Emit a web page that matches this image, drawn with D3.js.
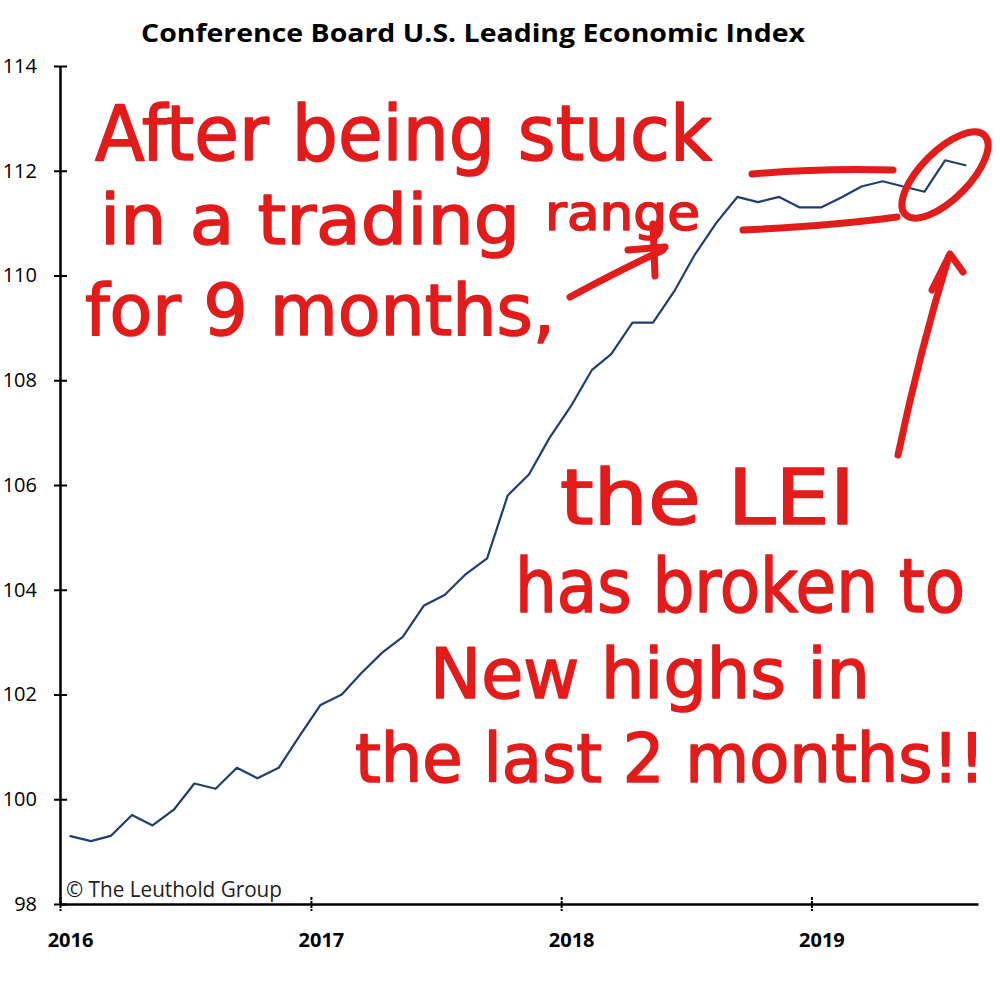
<!DOCTYPE html>
<html>
<head>
<meta charset="utf-8">
<script src="https://cdn.jsdelivr.net/npm/d3@7"></script>
<style>
  body { margin: 0; background: #fff; }
  svg { display: block; }
</style>
</head>
<body>
<div id="chart"></div>
<script>
// LEI monthly values, Jan 2016 .. Aug 2019
const lei2016 = [99.3, 99.2, 99.3, 99.7, 99.5, 99.8, 100.3, 100.2, 100.6, 100.4, 100.6, 101.2];
const lei2017 = [101.8, 102.0, 102.4, 102.8, 103.1, 103.7, 103.9, 104.3, 104.6, 105.8, 106.2, 106.9];
const lei2018 = [107.5, 108.2, 108.5, 109.1, 109.1, 109.7, 110.4, 111.0, 111.5, 111.4, 111.5, 111.3];
const lei2019 = [111.3, 111.5, 111.7, 111.8, 111.7, 111.6, 112.2, 112.1];

const yearTicks = [2016, 2017, 2018, 2019];
const yTicks = [98, 100, 102, 104, 106, 108, 110, 112, 114];

const title = "Conference Board U.S. Leading Economic Index";
const credit = "\u00a9 The Leuthold Group";

const width = 1000, height = 993;
const margin = {top: 66, right: 22, bottom: 89, left: 60};

const svg = d3.select("#chart")
    .append("svg")
    .attr("width", width)
    .attr("height", height);

// build monthly series (plotted mid-month)
const series = [];
[[2016, lei2016], [2017, lei2017], [2018, lei2018], [2019, lei2019]].forEach(([yr, vals]) => {
    vals.forEach((v, m) => series.push({date: new Date(yr, m, 15), value: v}));
});

const x = d3.scaleTime()
    .domain([new Date(2016, 0, 1), new Date(2019, 8, 1)])
    .range([margin.left, width - margin.right]);

const y = d3.scaleLinear()
    .domain([98, 114])
    .range([height - margin.bottom, margin.top]);

// title
svg.append("text")
    .attr("x", 473)
    .attr("y", 42)
    .attr("text-anchor", "middle")
    .attr("textLength", 664)
    .attr("lengthAdjust", "spacingAndGlyphs")
    .style("font-family", "'Open Sans', sans-serif")
    .style("font-size", "25px")
    .style("font-weight", "bold")
    .text(title);

// y axis
const yAxis = svg.append("g")
    .attr("transform", `translate(${margin.left},0)`)
    .call(d3.axisLeft(y).tickValues(yTicks).tickSize(6).tickSizeOuter(0).tickPadding(17));
yAxis.select(".domain").attr("stroke", "#000").attr("stroke-width", 2.5);
yAxis.selectAll(".tick line").attr("x1", 7).attr("stroke-width", 2);
yAxis.selectAll(".tick text")
    .style("font-family", "'Open Sans', sans-serif")
    .style("font-size", "20px")
    .attr("fill", "#000");

// x axis
const xAxis = svg.append("g")
    .attr("transform", `translate(0,${height - margin.bottom})`)
    .call(d3.axisBottom(x)
        .tickValues(yearTicks.map(yr => new Date(yr, 0, 1)))
        .tickFormat(d3.timeFormat("%Y"))
        .tickSize(7).tickSizeOuter(0).tickPadding(22));
xAxis.select(".domain").attr("stroke", "#000").attr("stroke-width", 2.5);
xAxis.selectAll(".tick line").attr("y1", -7).attr("stroke-width", 2).attr("stroke-dasharray", "3,1");
xAxis.selectAll(".tick text")
    .attr("dx", 10)
    .style("font-family", "'Open Sans', sans-serif")
    .style("font-size", "20px")
    .style("font-weight", "bold")
    .attr("fill", "#000");

// LEI line
const line = d3.line()
    .x(d => x(d.date))
    .y(d => y(d.value));

svg.append("path")
    .datum(series)
    .attr("fill", "none")
    .attr("stroke", "#1f3f73")
    .attr("stroke-width", 2.2)
    .attr("stroke-linejoin", "round")
    .attr("d", line);

// credit
svg.append("text")
    .attr("x", 66)
    .attr("y", 897)
    .attr("textLength", 216)
    .attr("lengthAdjust", "spacingAndGlyphs")
    .style("font-family", "'Open Sans', sans-serif")
    .style("font-size", "21px")
    .attr("fill", "#222")
    .text(credit);

// red hand-drawn annotations
const red = "#e21b1b";
const notes = svg.append("g").attr("class", "notes");

const noteLines = [
    {t: "After being stuck", x: 95, y: 160, w: 617, s: 76},
    {t: "in a trading", x: 100, y: 244, w: 420, s: 70},
    {t: "range", x: 545, y: 230, w: 155, s: 50},
    {t: "for 9 months,", x: 85, y: 335, w: 470, s: 72},
    {t: "the LEI", x: 560, y: 524, w: 295, s: 76},
    {t: "has broken to", x: 515, y: 612, w: 450, s: 74},
    {t: "New highs in", x: 430, y: 698, w: 440, s: 70},
    {t: "the last 2 months!!", x: 355, y: 782, w: 630, s: 68}
];

notes.selectAll("text")
    .data(noteLines)
    .enter().append("text")
    .attr("x", d => d.x)
    .attr("y", d => d.y)
    .attr("textLength", d => d.w)
    .attr("lengthAdjust", "spacingAndGlyphs")
    .style("font-family", "'Liberation Sans Narrow', 'DejaVu Sans Condensed', sans-serif")
    .style("font-size", d => d.s + "px")
    .attr("fill", red)
    .attr("stroke", red)
    .attr("stroke-width", 1.5)
    .attr("stroke-linejoin", "round")
    .text(d => d.t);

const strokes = [
    "M752,174 Q820,168 893,170",            // upper band line
    "M743,230 Q830,226 897,217",            // lower band line
    "M570,297 Q620,270 663,250",            // arrow shaft (left)
    "M628,250 L665,247 M653,224 L655,276",  // arrow head (left)
    "M898,455 Q920,350 949,256",            // arrow shaft (right)
    "M932,290 L950,254 L963,272"            // arrow head (right)
];

notes.selectAll("path.stroke")
    .data(strokes)
    .enter().append("path")
    .attr("class", "stroke")
    .attr("d", d => d)
    .attr("fill", "none")
    .attr("stroke", red)
    .attr("stroke-width", 7)
    .attr("stroke-linecap", "round")
    .attr("stroke-linejoin", "round");

notes.append("ellipse")
    .attr("cx", 945)
    .attr("cy", 175)
    .attr("rx", 56)
    .attr("ry", 24)
    .attr("transform", "rotate(-45 945 175)")
    .attr("fill", "none")
    .attr("stroke", red)
    .attr("stroke-width", 7);
</script>
</body>
</html>
